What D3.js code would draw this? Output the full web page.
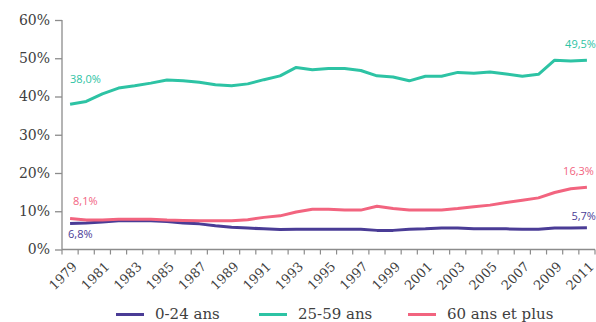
<!DOCTYPE html>
<html>
<head>
<meta charset="utf-8">
<script src="https://cdn.jsdelivr.net/npm/d3@7"></script>
<style>
  html, body { margin: 0; padding: 0; background: #fff; }
  svg { display: block; }
</style>
</head>
<body>
<svg id="chart" width="596" height="322"></svg>
<script>
// Part de la population par tranche d'âge, 1979-2011 (en %)
const years = d3.range(1979, 2012);
const yearLabels = years.filter(y => (y - 1979) % 2 === 0);
const yTicks = [0, 10, 20, 30, 40, 50, 60];

const ages0to24 = [6.8, 6.9, 7.2, 7.5, 7.5, 7.5, 7.3, 6.9, 6.7, 6.2, 5.8, 5.6, 5.4, 5.2, 5.3,
  5.3, 5.3, 5.3, 5.3, 5.0, 5.0, 5.3, 5.4, 5.6, 5.6, 5.4, 5.4, 5.4, 5.3, 5.3, 5.6, 5.6, 5.7];
const ages25to59 = [38.0, 38.7, 40.7, 42.2, 42.8, 43.5, 44.3, 44.1, 43.7, 43.1, 42.8, 43.3, 44.4, 45.4, 47.6,
  47.0, 47.3, 47.3, 46.8, 45.4, 45.1, 44.1, 45.3, 45.3, 46.3, 46.1, 46.4, 45.9, 45.3, 45.8, 49.5, 49.3, 49.5];
const ages60plus = [8.1, 7.7, 7.7, 7.9, 7.9, 7.9, 7.7, 7.6, 7.5, 7.5, 7.5, 7.8, 8.4, 8.8, 9.8,
  10.5, 10.5, 10.3, 10.3, 11.3, 10.7, 10.3, 10.3, 10.3, 10.7, 11.2, 11.6, 12.3, 12.9, 13.5, 14.9, 15.9, 16.3];

const seriesNames = ["0-24 ans", "25-59 ans", "60 ans et plus"];
const seriesColors = ["#4a3c96", "#2dc3a4", "#f2647f"];
const seriesValues = [ages0to24, ages25to59, ages60plus];

const fmt = v => d3.format(".1f")(v).replace(".", ",") + "%";

const svg = d3.select("#chart");
const plotLeft = 62, plotRight = 595, plotTop = 20, plotBottom = 249.5;

const x = d3.scaleBand().domain(years).range([plotLeft, plotRight]).padding(0);
const cx = yr => x(yr) + x.bandwidth() / 2;
const y = d3.scaleLinear().domain([0, 60]).range([plotBottom, plotTop]);

const axisColor = "#8c8c8c";
const textColor = "#404040";
const serif = "'DejaVu Serif', serif";
const sans = "'Open Sans', 'Noto Sans', sans-serif";

// Y axis
const yAxis = svg.append("g")
  .attr("transform", `translate(${plotLeft},0)`)
  .call(d3.axisLeft(y).tickValues(yTicks).tickSize(7).tickPadding(5)
    .tickFormat(d => d + "%"));
yAxis.selectAll("path, line").attr("stroke", axisColor).attr("stroke-width", 1.3);
yAxis.selectAll("text").attr("fill", textColor).style("font-family", serif).style("font-size", "14px");
yAxis.select("path").attr("d", `M0,${plotTop}V${plotBottom}`);

// X axis: baseline with ticks at category boundaries
const xAxis = svg.append("g").attr("transform", `translate(0,${plotBottom})`);
xAxis.append("line")
  .attr("x1", plotLeft).attr("x2", plotRight)
  .attr("stroke", axisColor).attr("stroke-width", 1.3);
xAxis.selectAll("line.tick")
  .data(years.map(yr => x(yr)).concat([plotRight]))
  .join("line")
  .attr("class", "tick")
  .attr("x1", d => d).attr("x2", d => d)
  .attr("y1", 0).attr("y2", 5)
  .attr("stroke", axisColor).attr("stroke-width", 1.2);
xAxis.selectAll("text")
  .data(yearLabels)
  .join("text")
  .attr("transform", d => `translate(${cx(d) + 1},${11}) rotate(-45)`)
  .attr("text-anchor", "end")
  .attr("dy", "0.75em")
  .attr("fill", textColor)
  .style("font-family", serif)
  .style("font-size", "13px")
  .text(d => d);

// Lines
const line = d3.line()
  .x((d, i) => cx(years[i]))
  .y(d => y(d));

svg.selectAll("path.series")
  .data(seriesValues)
  .join("path")
  .attr("class", "series")
  .attr("d", line)
  .attr("fill", "none")
  .attr("stroke", (d, i) => seriesColors[i])
  .attr("stroke-width", 3)
  .attr("stroke-linejoin", "round");

// Value labels at first and last year
const first = years[0], last = years[years.length - 1];
const labels = [
  { s: 0, yr: first, dx: -2, dy: 15, anchor: "start" },
  { s: 0, yr: last, dx: 9, dy: -8, anchor: "end" },
  { s: 1, yr: first, dx: 0, dy: -21, anchor: "start" },
  { s: 1, yr: last, dx: 9, dy: -12, anchor: "end" },
  { s: 2, yr: first, dx: 3, dy: -14, anchor: "start" },
  { s: 2, yr: last, dx: 7, dy: -12, anchor: "end" }
];
svg.selectAll("text.value")
  .data(labels)
  .join("text")
  .attr("class", "value")
  .attr("x", d => cx(d.yr) + d.dx)
  .attr("y", d => y(seriesValues[d.s][years.indexOf(d.yr)]) + d.dy)
  .attr("text-anchor", d => d.anchor)
  .attr("fill", d => seriesColors[d.s])
  .style("font-family", sans)
  .style("font-size", "11px")
  .text(d => fmt(seriesValues[d.s][years.indexOf(d.yr)]));

// Legend
const legendX = [116, 259, 408];
const legend = svg.append("g").attr("transform", "translate(0,314.5)");
const items = legend.selectAll("g")
  .data(seriesNames)
  .join("g")
  .attr("transform", (d, i) => `translate(${legendX[i]},0)`);
items.append("line")
  .attr("x1", 0).attr("x2", 28)
  .attr("stroke", (d, i) => seriesColors[i])
  .attr("stroke-width", 3);
items.append("text")
  .attr("x", 39)
  .attr("y", 4)
  .attr("fill", textColor)
  .style("font-family", serif)
  .style("font-size", "15px")
  .text(d => d);
</script>
</body>
</html>
